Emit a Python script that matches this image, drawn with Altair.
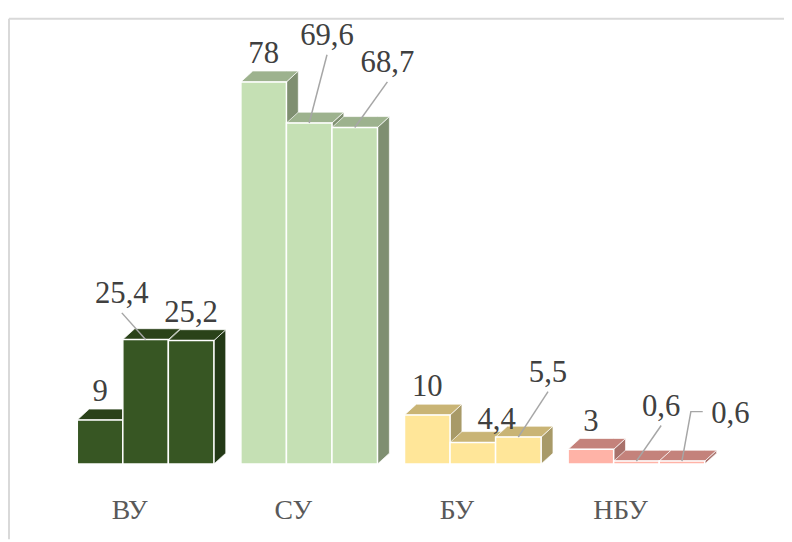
import altair as alt
import pandas as pd

# ---------------- data ----------------
categories = ["ВУ", "СУ", "БУ", "НБУ"]
series_1 = [9, 78, 10, 3]
series_2 = [25.4, 69.6, 4.4, 0.6]
series_3 = [25.2, 68.7, 5.5, 0.6]

# ---------------- styles ----------------
front_colors = ["#375623", "#C5E0B4", "#FFE699", "#FFB3A7"]
top_colors = ["#2A4219", "#9DB28E", "#C9B475", "#C4827B"]
side_colors = ["#233916", "#7F8F71", "#A89A68", "#A8716B"]
VALUE_COLOR = "#404040"
CAT_COLOR = "#595959"
FONT = "'Liberation Serif', 'Times New Roman', 'DejaVu Serif', serif"

# ---------------- layout (pixels) ----------------
W, H = 784, 534
X0, GSTEP, BW = 70, 165.3, 46
PXU = 4.95            # pixels per value unit
BASE = 458            # plot y of value 0
DX, DY_PX = 12, 11    # oblique depth
DY = DY_PX / PXU
Y_MIN, Y_MAX = -(H - BASE) / PXU, BASE / PXU

# label offsets (px, from default spot above bar) and leader style
label_dx = [[0, -24, 0], [0, 18, 33], [0, 24, 30], [0, 25, 49]]
label_dy = [[0, -18, 0], [0, -60, -37], [0, 5, -37], [0, -27, -19]]
leader = [[0, 1, 0], [0, 1, 1], [0, 0, 1], [0, 1, 2]]

series = [series_1, series_2, series_3]

bars, tops, sides, labels, leaders = [], [], [], [], []
for g, cat in enumerate(categories):
    for s in range(3):
        v = series[s][g]
        x0 = X0 + g * GSTEP + s * BW
        x1 = x0 + BW
        bid = f"{g}-{s}"
        bars.append(dict(id=bid, x0=x0, x1=x1, zero=0, v=v, c=front_colors[g]))
        for xx, ya, yb in [(x0, v, v), (x0 + DX, v, v + DY), (x1, v, v + DY), (x1 + DX, v + DY, v + DY)]:
            tops.append(dict(id=bid, x=xx, y=ya, y2=yb, c=top_colors[g]))
        for xx, ya, yb in [(x1, 0, v), (x1 + DX, DY, v + DY)]:
            sides.append(dict(id=bid, x=xx, y=ya, y2=yb, c=side_colors[g]))
        xc = x0 + BW / 2
        lx = xc + label_dx[g][s]
        ly = v + (19 - label_dy[g][s]) / PXU
        text = f"{v:g}".replace(".", ",")
        labels.append(dict(x=lx, y=ly, t=text))
        kind = leader[g][s]
        if kind == 1:
            pts = [(lx, ly - 10 / PXU), (xc, v)]
        elif kind == 2:
            pts = [(lx - 28, ly + 12 / PXU), (lx - 40, ly + 12 / PXU), (xc, v)]
        else:
            pts = []
        for k, (px, py) in enumerate(pts):
            leaders.append(dict(id=bid, k=k, x=px, y=py))

cats = [dict(x=X0 + g * GSTEP + 1.5 * BW - 16, t=c) for g, c in enumerate(categories)]

xs = alt.Scale(domain=[0, W], zero=False, nice=False)
ys = alt.Scale(domain=[Y_MIN, Y_MAX], zero=False, nice=False)

dummy = pd.DataFrame({"d": [0]})
border_left = alt.Chart(dummy).mark_rule(color="#D9D9D9", strokeWidth=2).encode(
    x=alt.value(1), y=alt.value(8), y2=alt.value(H))
border_top = alt.Chart(dummy).mark_rule(color="#D9D9D9", strokeWidth=2).encode(
    x=alt.value(1), x2=alt.value(W), y=alt.value(8))

side_layer = alt.Chart(pd.DataFrame(sides)).mark_area(stroke="white", strokeWidth=1, strokeOpacity=0.7).encode(
    x=alt.X("x:Q", scale=xs, axis=None), y=alt.Y("y:Q", scale=ys, axis=None), y2="y2:Q",
    detail="id:N", color=alt.Color("c:N", scale=None))
top_layer = alt.Chart(pd.DataFrame(tops)).mark_area(stroke="white", strokeWidth=1, strokeOpacity=0.7).encode(
    x=alt.X("x:Q", scale=xs, axis=None), y=alt.Y("y:Q", scale=ys, axis=None), y2="y2:Q",
    detail="id:N", color=alt.Color("c:N", scale=None))
front_layer = alt.Chart(pd.DataFrame(bars)).mark_rect(stroke="white", strokeWidth=1.5).encode(
    x=alt.X("x0:Q", scale=xs, axis=None), x2="x1:Q",
    y=alt.Y("zero:Q", scale=ys, axis=None), y2="v:Q",
    color=alt.Color("c:N", scale=None))
leader_layer = alt.Chart(pd.DataFrame(leaders)).mark_line(color="#A6A6A6", strokeWidth=1.5).encode(
    x=alt.X("x:Q", scale=xs, axis=None), y=alt.Y("y:Q", scale=ys, axis=None),
    detail="id:N", order="k:Q")
label_layer = alt.Chart(pd.DataFrame(labels)).mark_text(
    font=FONT, fontSize=31, color=VALUE_COLOR, align="center", baseline="alphabetic").encode(
    x=alt.X("x:Q", scale=xs, axis=None), y=alt.Y("y:Q", scale=ys, axis=None), text="t:N")
cat_layer = alt.Chart(pd.DataFrame(cats)).mark_text(
    font=FONT, fontSize=28, color=CAT_COLOR, align="center", baseline="alphabetic").encode(
    x=alt.X("x:Q", scale=xs, axis=None), y=alt.value(514), text="t:N")

chart = alt.layer(
    border_left, border_top, side_layer, top_layer, front_layer, leader_layer, label_layer, cat_layer
).properties(
    width=W, height=H, padding=0, autosize=alt.AutoSizeParams(type="none"), background="white"
).configure_view(stroke=None)

chart.save("out.html", embed_options={"renderer": "svg", "actions": False})
